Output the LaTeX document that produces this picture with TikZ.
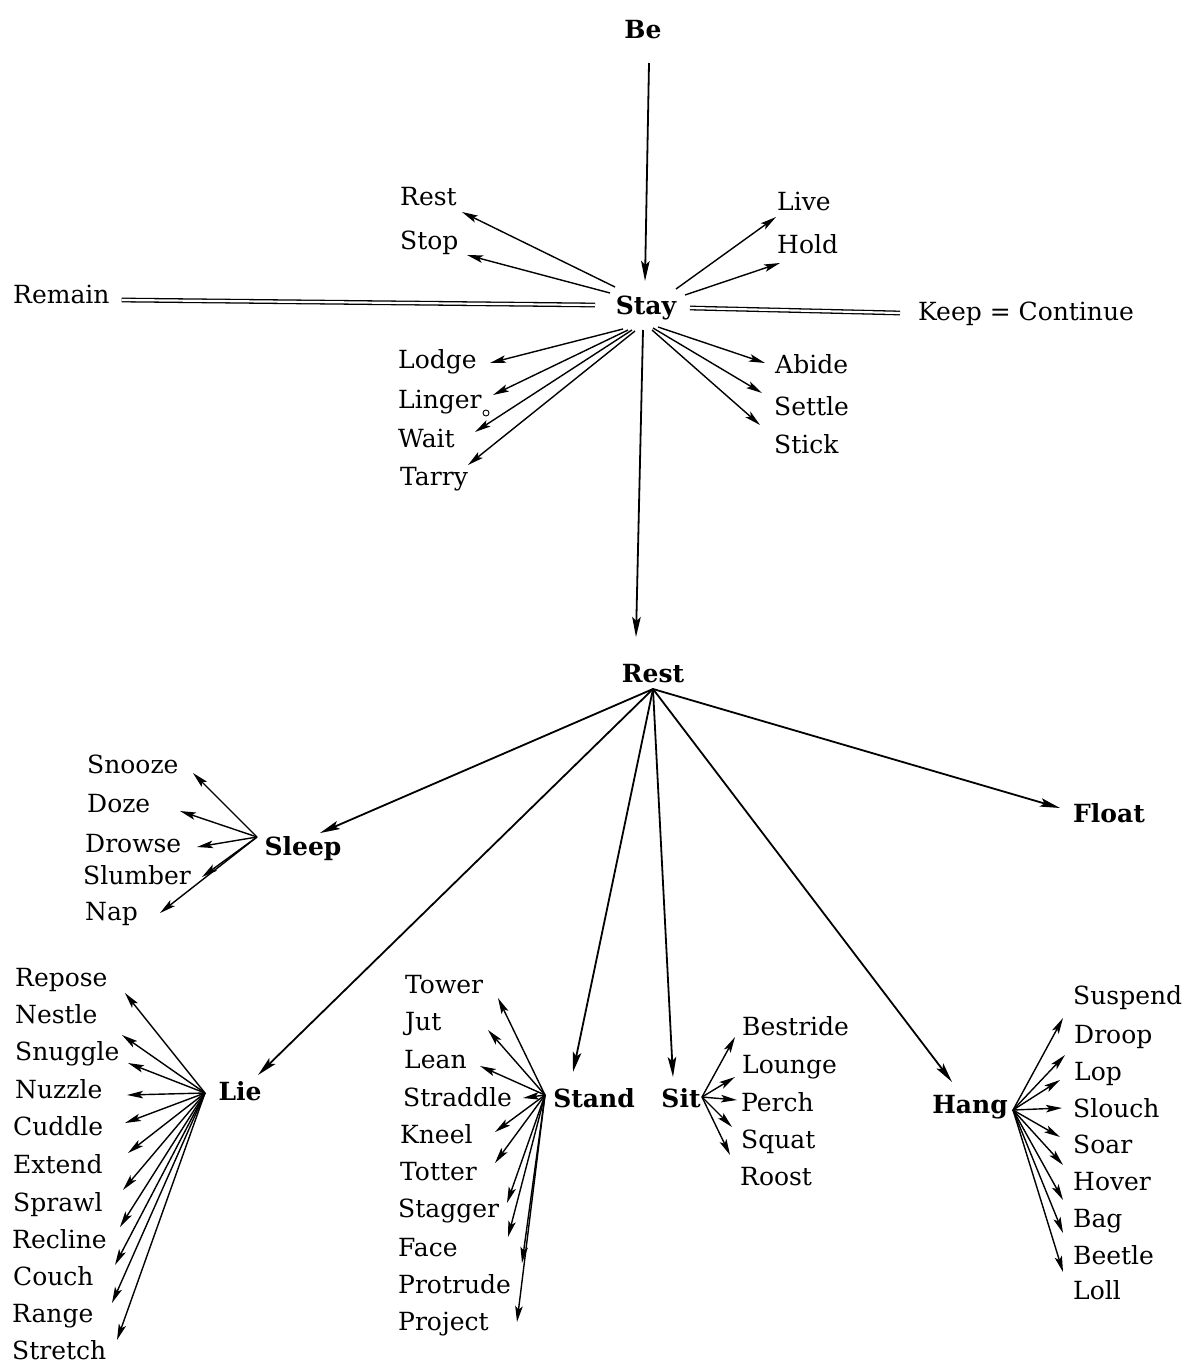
\documentclass[tikz,border=0pt]{standalone}
\usepackage{fontspec}
\setmainfont{DejaVu Serif}
\usetikzlibrary{arrows.meta,calc}
\begin{document}
\begin{tikzpicture}[x=1pt,y=-1pt,
  leaf/.style={anchor=base west, inner sep=0pt, font=\fontsize{25}{30}\selectfont},
  head/.style={anchor=base, inner sep=0pt, font=\fontsize{25}{29}\selectfont\bfseries},
  spoke/.style={line width=1.4pt, -{Stealth[length=16pt,width=7.5pt,inset=3.5pt]}},
  mainarrow/.style={line width=1.8pt, -{Stealth[length=20pt,width=8.5pt,inset=4pt]}},
  dbl/.style={double, double distance=2.2pt, line width=1.3pt}
]
\useasboundingbox (0,0) rectangle (1188,1365);

% ---------- head words ----------
\node[head] (be)    at (643,38)   {Be};
\node[head] (stay)  at (646,314)  {Stay};
\node[head] (rest)  at (653,682)  {Rest};
\node[head] (sleep) at (303,855)  {Sleep};
\node[head] (float) at (1109,822) {Float};
\node[head] (lie)   at (240,1100) {Lie};
\node[head] (stand) at (594,1107) {Stand};
\node[head] (sit)   at (681,1107) {Sit};
\node[head] (hang)  at (970,1113) {Hang};

% ---------- words around Stay ----------
\node[leaf] (restTop) at (400,205) {Rest};
\node[leaf] (stop)    at (400,249) {Stop};
\node[leaf] (live)    at (777,210) {Live};
\node[leaf] (hold)    at (777,253) {Hold};
\node[leaf] (remain)  at (13,303)  {Remain};
\node[leaf] (keep)    at (918,320) {Keep = Continue};
\node[leaf] (lodge)   at (398,368) {Lodge};
\node[leaf] (linger)  at (398,408) {Linger};
\node[leaf] (wait)    at (398,447) {Wait};
\node[leaf] (tarry)   at (400,485) {Tarry};
\node[leaf] (abide)   at (775,373) {Abide};
\node[leaf] (settle)  at (774,415) {Settle};
\node[leaf] (stick)   at (774,453) {Stick};
\draw[line width=0.9pt] (486,413) circle (3);

% ---------- words around Sleep ----------
\node[leaf] (snooze)  at (87,773) {Snooze};
\node[leaf] (doze)    at (87,812) {Doze};
\node[leaf] (drowse)  at (85,852) {Drowse};
\node[leaf] (slumber) at (83,884) {Slumber};
\node[leaf] (nap)     at (85,920) {Nap};

% ---------- words around Lie ----------
\node[leaf] (repose)  at (15,986)  {Repose};
\node[leaf] (nestle)  at (15,1023) {Nestle};
\node[leaf] (snuggle) at (15,1060) {Snuggle};
\node[leaf] (nuzzle)  at (15,1098) {Nuzzle};
\node[leaf] (cuddle)  at (13,1135) {Cuddle};
\node[leaf] (extend)  at (13,1173) {Extend};
\node[leaf] (sprawl)  at (13,1211) {Sprawl};
\node[leaf] (recline) at (12,1248) {Recline};
\node[leaf] (couch)   at (13,1285) {Couch};
\node[leaf] (range)   at (12,1322) {Range};
\node[leaf] (stretch) at (12,1359) {Stretch};

% ---------- words around Stand ----------
\node[leaf] (tower)    at (405,993)  {Tower};
\node[leaf] (jut)      at (405,1030) {Jut};
\node[leaf] (lean)     at (404,1068) {Lean};
\node[leaf] (straddle) at (403,1106) {Straddle};
\node[leaf] (kneel)    at (400,1143) {Kneel};
\node[leaf] (totter)   at (400,1180) {Totter};
\node[leaf] (stagger)  at (398,1217) {Stagger};
\node[leaf] (face)     at (398,1256) {Face};
\node[leaf] (protrude) at (398,1293) {Protrude};
\node[leaf] (project)  at (398,1330) {Project};

% ---------- words around Sit ----------
\node[leaf] (bestride) at (742,1035) {Bestride};
\node[leaf] (lounge)   at (742,1073) {Lounge};
\node[leaf] (perch)    at (741,1111) {Perch};
\node[leaf] (squat)    at (741,1148) {Squat};
\node[leaf] (roost)    at (740,1185) {Roost};

% ---------- words around Hang ----------
\node[leaf] (suspend) at (1073,1004) {Suspend};
\node[leaf] (droop)   at (1074,1043) {Droop};
\node[leaf] (lop)     at (1074,1080) {Lop};
\node[leaf] (slouch)  at (1073,1117) {Slouch};
\node[leaf] (soar)    at (1073,1153) {Soar};
\node[leaf] (hover)   at (1073,1190) {Hover};
\node[leaf] (bag)     at (1073,1227) {Bag};
\node[leaf] (beetle)  at (1073,1264) {Beetle};
\node[leaf] (loll)    at (1073,1299) {Loll};

% ---------- hubs where spokes meet ----------
\coordinate (restHub)  at ($(rest.base)+(0,7)$);
\coordinate (sleepHub) at ($(sleep.base)+(-46,-18)$);
\coordinate (lieHub)   at ($(lie.base)+(-35,-7)$);
\coordinate (standHub) at ($(stand.base)+(-49,-12)$);
\coordinate (sitHub)   at ($(sit.base)+(21,-10)$);
\coordinate (hangHub)  at ($(hang.base)+(43,-3)$);

% ---------- main chain ----------
\draw[mainarrow] ($(be.base)+(6,25)$) -- ($(stay.base)+(-1,-33)$);
\draw[mainarrow] ($(stay.base)+(-3,16)$) -- ($(rest.base)+(-17,-45)$);
\draw[dbl] ($(remain.base east)+(12,-3)$) -- ($(stay.base)+(-51,-9)$);
\draw[dbl] ($(stay.base)+(44,-6)$) -- ($(keep.base west)+(-18,-7)$);

\draw[mainarrow] (restHub) -- ($(sleep.base)+(17,-22)$);
\draw[mainarrow] (restHub) -- ($(lie.base)+(18,-25)$);
\draw[mainarrow] (restHub) -- ($(stand.base)+(-21,-35)$);
\draw[mainarrow] (restHub) -- ($(sit.base)+(-8,-30)$);
\draw[mainarrow] (restHub) -- ($(hang.base)+(-18,-31)$);
\draw[mainarrow] (restHub) -- ($(float.base)+(-49,-14)$);

% ---------- spokes from Stay ----------
\foreach \n/\sx/\sy/\tx/\ty in {restTop/-31/-27/462/212, stop/-36/-21/467/255,
    live/30/-25/776/217, hold/39/-19/780/263,
    lodge/-23/15/490/363, linger/-18/16/493/395, wait/-14/16/475/432, tarry/-11/17/468/465,
    abide/12/13/765/363, settle/7/14/762/393, stick/6/16/760/425} {
  \coordinate (tip-\n) at (\tx,\ty);
  \draw[spoke] ($(stay.base)+(\sx,\sy)$) -- (tip-\n);
}

% ---------- spokes from Sleep ----------
\foreach \n/\tx/\ty in {snooze/193/773, doze/180/811, drowse/197/847, slumber/202/877, nap/160/913} {
  \coordinate (tip-\n) at (\tx,\ty);
  \draw[spoke] (sleepHub) -- (tip-\n);
}

% ---------- spokes from Lie ----------
\foreach \n/\tx/\ty in {repose/125/993, nestle/122/1035, snuggle/128/1063, nuzzle/127/1095,
    cuddle/125/1123, extend/128/1153, sprawl/123/1190, recline/120/1227,
    couch/115/1265, range/112/1303, stretch/117/1340} {
  \coordinate (tip-\n) at (\tx,\ty);
  \draw[spoke] (lieHub) -- (tip-\n);
}

% ---------- spokes from Stand ----------
\foreach \n/\tx/\ty in {tower/498/998, jut/488/1030, lean/480/1066, straddle/523/1098,
    kneel/495/1132, totter/495/1163, stagger/507/1203, face/508/1237,
    protrude/522/1263, project/517/1322} {
  \coordinate (tip-\n) at (\tx,\ty);
  \draw[spoke] (standHub) -- (tip-\n);
}

% ---------- spokes from Sit ----------
\foreach \n/\tx/\ty in {bestride/735/1037, lounge/735/1077, perch/737/1100, squat/732/1127, roost/730/1155} {
  \coordinate (tip-\n) at (\tx,\ty);
  \draw[spoke] (sitHub) -- (tip-\n);
}

% ---------- spokes from Hang ----------
\foreach \n/\tx/\ty in {suspend/1063/1018, droop/1065/1055, lop/1060/1080, slouch/1062/1108,
    soar/1060/1137, hover/1063/1165, bag/1063/1200, beetle/1063/1233, loll/1063/1272} {
  \coordinate (tip-\n) at (\tx,\ty);
  \draw[spoke] (hangHub) -- (tip-\n);
}
\end{tikzpicture}
\end{document}
